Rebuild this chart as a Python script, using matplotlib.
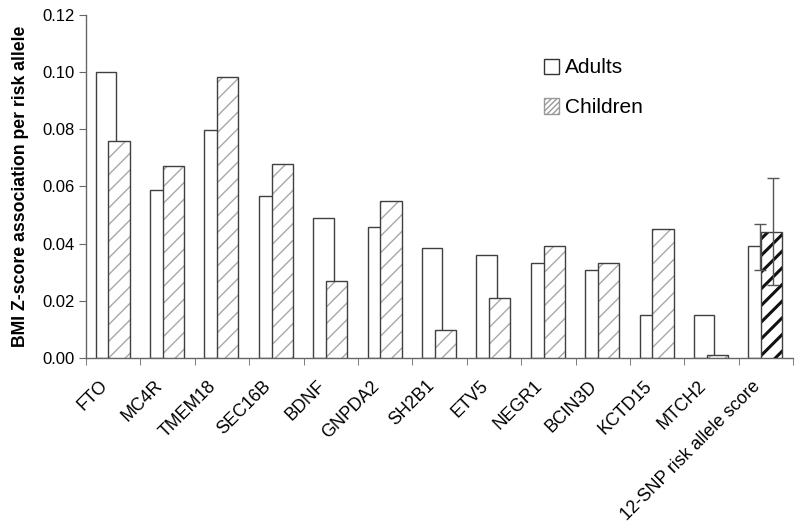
import numpy as np
import matplotlib
matplotlib.use("Agg")
import matplotlib.pyplot as plt
from matplotlib.patches import Patch

plt.rcParams['font.family'] = ['Liberation Sans', 'DejaVu Sans']

categories = ["FTO", "MC4R", "TMEM18", "SEC16B", "BDNF", "GNPDA2", "SH2B1",
              "ETV5", "NEGR1", "BCIN3D", "KCTD15", "MTCH2", "12-SNP risk allele score"]
adults = [0.100, 0.0587, 0.0797, 0.0565, 0.0488, 0.0459, 0.0385,
          0.0361, 0.0333, 0.0308, 0.0152, 0.0152, 0.0390]
children = [0.0759, 0.0670, 0.0982, 0.0678, 0.0269, 0.0550, 0.0099,
            0.0209, 0.0390, 0.0333, 0.0451, 0.0009, 0.0441]
adults_err_lo = [0.0308]
adults_err_hi = [0.0470]
children_err_lo = [0.0254]
children_err_hi = [0.0630]
yticks = [0.00, 0.02, 0.04, 0.06, 0.08, 0.10, 0.12]

fig = plt.figure(figsize=(8, 5.28), dpi=100)
ax = fig.add_axes([0.1075, 0.322, 0.884, 0.650])

x = np.arange(len(categories))
edge = '#404040'
hatch_c = '#a8a8a8'
a_left = -0.322
a_w = 0.372
c_left = -0.09
c_w = 0.392

for i in range(len(categories)):
    ax.bar(x[i] + a_left, adults[i], width=a_w, align='edge', facecolor='white',
           edgecolor=edge, linewidth=1.0, zorder=2)
    if i < len(categories) - 1:
        ax.bar(x[i] + c_left, children[i], width=c_w, align='edge', facecolor='white',
               edgecolor=hatch_c, hatch='//', linewidth=0, zorder=3)
        ax.bar(x[i] + c_left, children[i], width=c_w, align='edge', facecolor='none',
               edgecolor=edge, linewidth=1.0, zorder=4)
    else:
        with plt.rc_context({'hatch.linewidth': 2.2}):
            ax.bar(x[i] + c_left, children[i], width=c_w, align='edge', facecolor='white',
                   edgecolor='#111111', hatch='//', linewidth=0, zorder=3)
        ax.bar(x[i] + c_left, children[i], width=c_w, align='edge', facecolor='none',
               edgecolor=edge, linewidth=1.0, zorder=4)

# error bars for score
i = len(categories) - 1
ax.errorbar([x[i] + a_left + a_w / 2 + 0.02], [adults[i]],
            yerr=[[adults[i] - adults_err_lo[0]], [adults_err_hi[0] - adults[i]]],
            fmt='none', ecolor='#555555', elinewidth=1.0, capsize=4, capthick=1.0, zorder=5)
ax.errorbar([x[i] + c_left + c_w / 2 + 0.02], [children[i]],
            yerr=[[children[i] - children_err_lo[0]], [children_err_hi[0] - children[i]]],
            fmt='none', ecolor='#555555', elinewidth=1.0, capsize=4, capthick=1.0, zorder=5)

ax.set_xlim(-0.5, len(categories) - 0.5)
ax.set_ylim(0, 0.12)
ax.set_yticks(yticks)
ax.set_yticklabels([f"{v:.2f}" for v in yticks], fontsize=12)
# label anchors sit slightly left of the category centres, as in the original
ax.set_xticks(x - 0.26)
ax.set_xticklabels(categories, rotation=45, ha='right', rotation_mode='anchor', fontsize=12.8)
ax.set_xticks(np.arange(-0.5, len(categories)), minor=True)
ax.tick_params(axis='x', which='major', length=0, pad=14)
ax.tick_params(axis='x', which='minor', length=5, direction='out', color='#666666')
ax.tick_params(axis='y', length=5, direction='out', color='#666666', pad=3)

for s in ['top', 'right']:
    ax.spines[s].set_visible(False)
for s in ['left', 'bottom']:
    ax.spines[s].set_color('#666666')
    ax.spines[s].set_linewidth(1.0)

ax.set_ylabel("BMI Z-score association per risk allele", fontsize=12.7, fontweight='bold', labelpad=10)

handles = [Patch(facecolor='white', edgecolor='#333333', linewidth=1.0, label='Adults'),
           Patch(facecolor='white', edgecolor='#999999', hatch='//////', linewidth=1.0, label='Children')]
leg = fig.legend(handles=handles, loc='upper left', bbox_to_anchor=(0.669, 0.905), frameon=False,
                 fontsize=15, handlelength=0.75, handleheight=0.75, handletextpad=0.3,
                 labelspacing=1.0, borderaxespad=0)

fig.savefig('out.png', dpi=100)
